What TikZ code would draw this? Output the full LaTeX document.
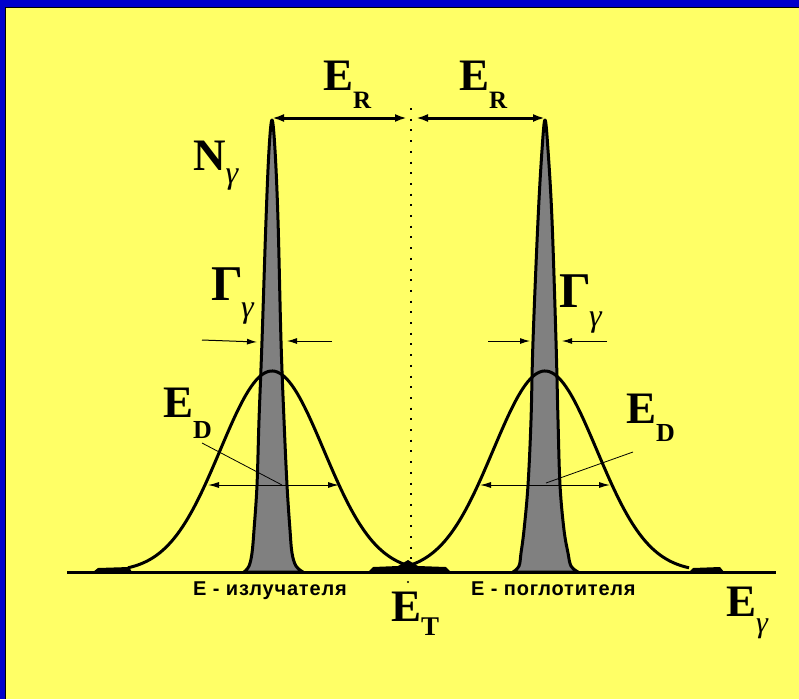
\documentclass[tikz,border=0pt]{standalone}
\usepackage{fontspec}
\setmainfont{Liberation Serif}
\newfontfamily\rusans[LetterSpace=4]{Liberation Sans}
\usetikzlibrary{arrows.meta,positioning}
\definecolor{frameblue}{RGB}{0,0,204}
\definecolor{bgyellow}{RGB}{255,255,102}
\definecolor{peakgray}{RGB}{128,128,128}
\newcommand{\dropsub}[2]{\raisebox{-#1pt}{#2}}

\begin{document}
\begin{tikzpicture}[x=1pt,y=-1pt,
    lbl/.style={inner sep=0pt,anchor=base west,font=\fontsize{45}{50}\selectfont\bfseries},
    rulbl/.style={inner sep=0pt,anchor=base west,font=\rusans\bfseries\fontsize{20}{22}\selectfont},
    curve/.style={line width=3pt,line join=round},
    peak/.style={fill=peakgray,draw=black,line width=3pt,line join=round},
    thinarrow/.style={line width=1pt,-{Latex[length=10pt,width=6pt]}}]
  \useasboundingbox (0,0) rectangle (799,699);
  % Background
  \fill[frameblue] (0,0) rectangle (799,699);
  \fill[bgyellow] (6,8) rectangle (799,699);
  \draw[line width=1.5pt] (5.5,699) -- (5.5,7.5) -- (799,7.5);

  % Coordinates
  \coordinate (axL) at (67,572);
  \coordinate (axR) at (776,572);
  \coordinate (tipL) at (272,118);
  \coordinate (tipR) at (545,118);
  \coordinate (midL) at (407,118);
  \coordinate (midR) at (416,118);
  \coordinate (dotTop) at (411,108);
  \coordinate (dotBot) at (411,566);

  % Narrow lines (gray)
  \filldraw[peak] plot[smooth,tension=0.6] coordinates {(244,572) (249,566) (252,553) (254,530) (257,485)
    (259,420) (262,341) (266,220) (269,150) (272,120) (275,150) (278,220) (281,341)
    (284,420) (287,485) (290,530) (292,553) (296,566) (303,572)} -- cycle;
  \filldraw[peak] plot[smooth,tension=0.6] coordinates {(513,572) (519,566) (521,553) (524,530) (528,485)
    (531,420) (533,341) (538,220) (542,150) (545,120) (548,150) (552,220) (556,341)
    (558,420) (560,485) (564,530) (568,553) (571,566) (578,572)} -- cycle;

  % Doppler profiles
  \draw[curve] plot[domain=128:410,samples=120,smooth] (\x,{572-201*exp(-0.5*((\x-272)/51.8)^2)});
  \draw[curve] plot[domain=407:689,samples=120,smooth] (\x,{572-201*exp(-0.5*((\x-545)/51.8)^2)});

  % Feet on the axis
  \fill (93,572) -- (98,568) -- (129,567) -- (132,572) -- cycle;
  \fill (368,572) -- (373,567) -- (398,566) -- (408,560) -- (418,566) -- (446,567) -- (451,572) -- cycle;
  \fill (689,572) -- (693,568) -- (720,567) -- (724,572) -- cycle;

  % Axis and centre line
  \draw[line width=3pt] (axL) -- (axR);
  \draw[line width=2pt,dash pattern=on 2pt off 8.7pt] (dotTop) -- (dotBot);
  \fill (408,582) circle (1.2pt);

  % Recoil arrows
  \draw[line width=3pt,{Latex[length=12pt,width=8pt]}-{Latex[length=12pt,width=8pt]}] (tipL) -- (midL);
  \draw[line width=3pt,{Latex[length=12pt,width=8pt]}-{Latex[length=12pt,width=8pt]}] (midR) -- (tipR);

  % Width arrows
  \coordinate (gl1) at (202,340);  \coordinate (gl2) at (257,342);
  \coordinate (gl3) at (332,341);  \coordinate (gl4) at (287,341);
  \coordinate (gr1) at (488,341);  \coordinate (gr2) at (530,341);
  \coordinate (gr3) at (607,341);  \coordinate (gr4) at (562,341);
  \draw[thinarrow] (gl1) -- (gl2);
  \draw[thinarrow] (gl3) -- (gl4);
  \draw[thinarrow] (gr1) -- (gr2);
  \draw[thinarrow] (gr3) -- (gr4);

  \coordinate (dl1) at (208,485);  \coordinate (dl2) at (339,485);
  \coordinate (dr1) at (480,485);  \coordinate (dr2) at (610,485);
  \draw[line width=1pt,{Latex[length=11pt,width=6pt]}-{Latex[length=11pt,width=6pt]}] (dl1) -- (dl2);
  \draw[line width=1pt,{Latex[length=11pt,width=6pt]}-{Latex[length=11pt,width=6pt]}] (dr1) -- (dr2);
  \coordinate (pl1) at (202,443);  \coordinate (pl2) at (282,485);
  \coordinate (pr1) at (633,452);  \coordinate (pr2) at (546,483);
  \draw[line width=0.8pt] (pl1) -- (pl2);
  \draw[line width=0.8pt] (pr1) -- (pr2);

  % Labels
  \node[lbl] (erl) at (323,90) {E\dropsub{18}{\fontsize{25}{25}\selectfont R}};
  \node[lbl] (err) at (459,90) {E\dropsub{18}{\fontsize{25}{25}\selectfont R}};
  \node[lbl] (ngam) at (193,170.7) {N\dropsub{12.7}{\fontsize{32}{32}\selectfont\mdseries\itshape γ}};
  \node[lbl,font=\fontsize{50}{55}\selectfont\bfseries] (gaml) at (211,300.7)
    {Γ\kern-2pt\dropsub{16.7}{\fontsize{32}{32}\selectfont\mdseries\itshape γ}};
  \node[lbl,font=\fontsize{50}{55}\selectfont\bfseries] (gamr) at (559,307)
    {Γ\kern-2pt\dropsub{19}{\fontsize{32}{32}\selectfont\mdseries\itshape γ}};
  \node[lbl] (edl) at (163,417) {E\dropsub{21}{\fontsize{26}{26}\selectfont D}};
  \node[lbl] (edr) at (626,423) {E\dropsub{18.7}{\fontsize{26}{26}\selectfont D}};
  \node[lbl] (et) at (391,621) {E\dropsub{14}{\fontsize{27}{27}\selectfont T}};
  \node[lbl] (egam) at (726,616.7) {E\dropsub{16}{\fontsize{30}{30}\selectfont\mdseries\itshape γ}};
  \node[rulbl] (emit) at (193,595) {E - излучателя};
  \node[rulbl] (absb) at (471,595) {E - поглотителя};
\end{tikzpicture}
\end{document}
